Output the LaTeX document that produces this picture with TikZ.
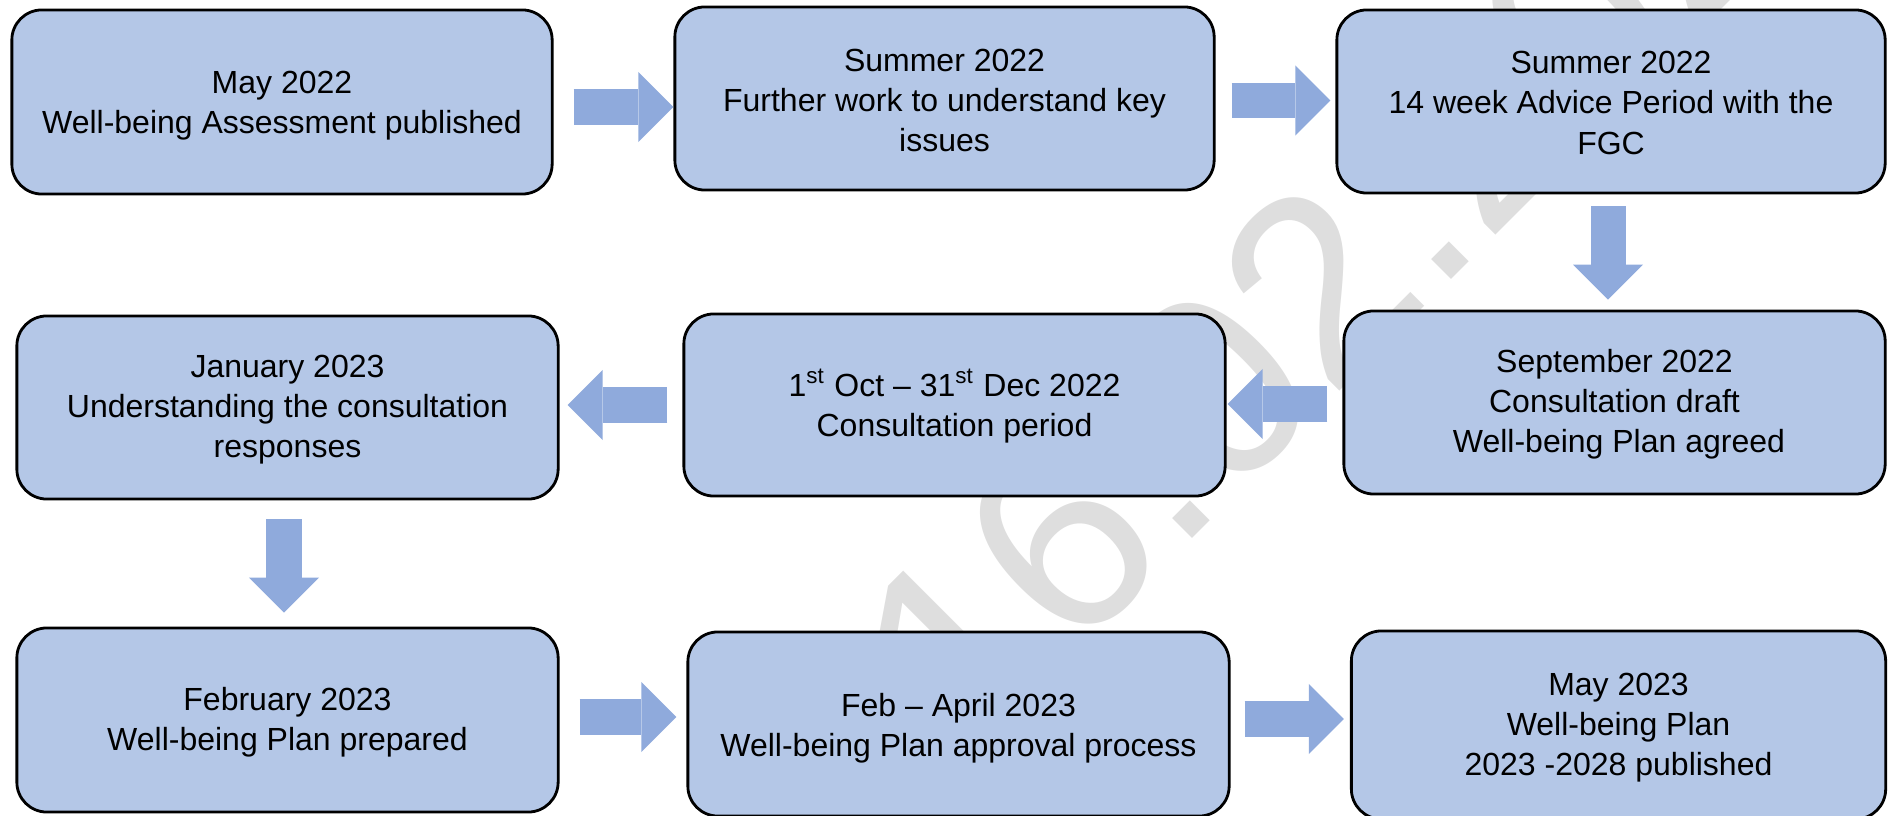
\documentclass[tikz,border=0pt]{standalone}
\usepackage{fontspec}
\setmainfont{Liberation Sans}
\usetikzlibrary{arrows.meta,calc}
\definecolor{boxfill}{RGB}{180,199,231}
\definecolor{arrowfill}{RGB}{143,170,220}
\definecolor{wmgray}{RGB}{222,222,222}
\newcommand{\topstrut}[1]{\rule{0pt}{#1}}
\begin{document}
\begin{tikzpicture}[x=0.01cm,y=-0.01cm,
  stepbox/.style={draw=black, line width=0.8pt, fill=boxfill, rounded corners=0.3cm,
    align=center, inner sep=0pt, font=\fontsize{9.1}{11.38}\selectfont},
  blockarrow/.style={draw=arrowfill, line width=0.35cm,
    -{Triangle[width=0.7cm,length=0.35cm,line width=0pt]}},
  watermark/.style={text=wmgray, inner sep=0pt, font=\fontsize{74.9}{78}\selectfont}]
\useasboundingbox (0,0) rectangle (1889,816);
% watermark
\node[watermark, anchor=base west, rotate=45] (wm) at (968,763) {16.02.2023};
% boxes
\node[stepbox, minimum width=5.40cm, minimum height=1.84cm] (A) at (282,102)
  {\topstrut{8.5pt}May 2022\\Well-being Assessment published};
\node[stepbox, minimum width=5.39cm, minimum height=1.83cm] (B) at (944.5,98.5)
  {\topstrut{7.4pt}Summer 2022\\Further work to understand key\\issues};
\node[stepbox, minimum width=5.48cm, minimum height=1.83cm] (C) at (1611,101.5)
  {\topstrut{7.2pt}Summer 2022\\14 week Advice Period with the\\FGC};
\node[stepbox, minimum width=5.41cm, minimum height=1.83cm] (D) at (1614.5,402.5)
  {\topstrut{7.6pt}September 2022\\Consultation draft\\\hspace*{0.278em}Well-being Plan agreed};
\node[stepbox, minimum width=5.41cm, minimum height=1.82cm] (E) at (954.5,405)
  {\topstrut{8.6pt}1\textsuperscript{st} Oct – 31\textsuperscript{st} Dec 2022\\Consultation period};
\node[stepbox, minimum width=5.41cm, minimum height=1.83cm] (F) at (287.5,407.5)
  {\topstrut{7.6pt}January 2023\\Understanding the consultation\\responses};
\node[stepbox, minimum width=5.41cm, minimum height=1.84cm] (G) at (287.5,720)
  {\topstrut{7.7pt}February 2023\\Well-being Plan prepared};
\node[stepbox, minimum width=5.41cm, minimum height=1.84cm] (H) at (958.5,724)
  {\topstrut{9.2pt}Feb – April 2023\\Well-being Plan approval process};
\node[stepbox, minimum width=5.34cm, minimum height=1.88cm] (I) at (1618.5,725)
  {\topstrut{7.7pt}May 2023\\Well-being Plan\\2023 -2028 published};
% block arrows
\draw[blockarrow] ($(A.east)+(20,5)$) -- ($(B.west)+(0,8.5)$);
\draw[blockarrow] ($(B.east)+(16,2)$) -- ($(C.west)+(-5,-1)$);
\draw[blockarrow] ($(C.south)+(-3,12)$) -- ($(D.north)+(-6.5,-10)$);
\draw[blockarrow] ($(D.west)+(-15,1.5)$) -- ($(E.east)+(1,-1)$);
\draw[blockarrow] ($(E.west)+(-15,0)$) -- ($(F.east)+(8,-2.5)$);
\draw[blockarrow] ($(F.south)+(-3.5,19)$) -- ($(G.north)+(-3.5,-14)$);
\draw[blockarrow] ($(G.east)+(20,-3)$) -- ($(H.west)+(-10,-7)$);
\draw[blockarrow] ($(H.east)+(14,-5)$) -- ($(I.west)+(-6,-6)$);
\end{tikzpicture}
\end{document}
